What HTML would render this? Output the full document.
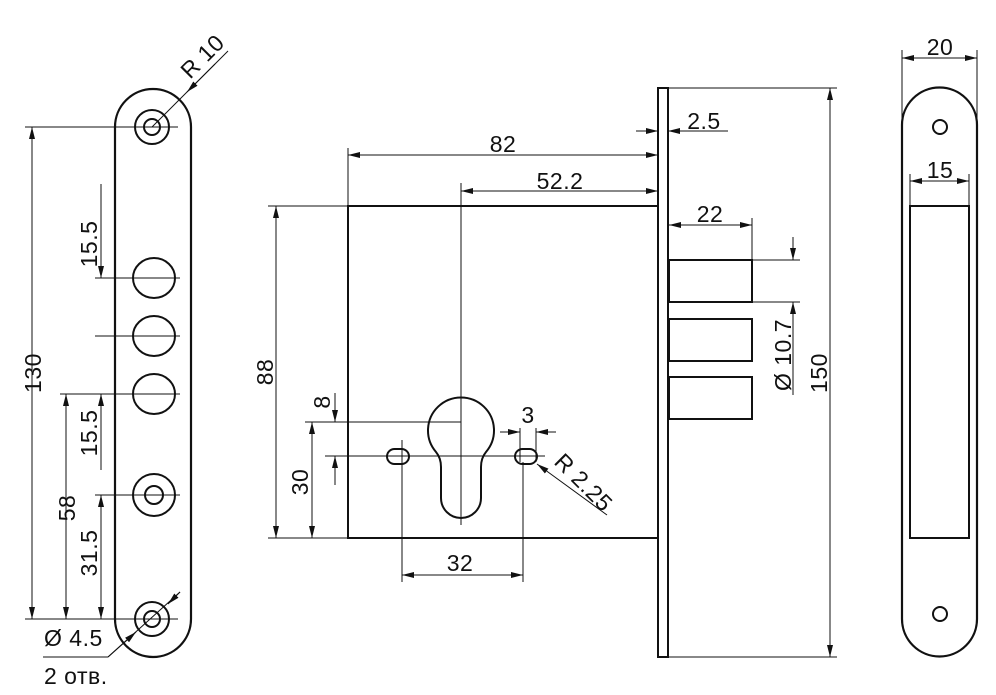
<!DOCTYPE html>
<html><head><meta charset="utf-8"><style>
html,body{margin:0;padding:0;background:#fff;}
svg{display:block}
text{font-family:"Liberation Sans",sans-serif;font-size:23px;fill:#111;letter-spacing:0.5px}
</style></head><body>
<svg width="996" height="695" viewBox="0 0 996 695" xmlns="http://www.w3.org/2000/svg">
<defs>
<marker id="a" viewBox="0 0 12 6" refX="12" refY="3" markerWidth="12" markerHeight="6" markerUnits="userSpaceOnUse" orient="auto-start-reverse">
<path d="M0,0 L12,3 L0,6 z" fill="#111"/></marker>
</defs>
<g fill="none" stroke="#111" stroke-width="1">
<path d="M115,127 A38,38 0 0 1 191,127 L191,619 A38,38 0 0 1 115,619 Z" stroke-width="2.2"/>
<circle cx="152" cy="127" r="17" stroke-width="2"/><circle cx="152" cy="127" r="8" stroke-width="2"/>
<circle cx="152" cy="619" r="17" stroke-width="2"/><circle cx="152" cy="619" r="8" stroke-width="2"/>
<ellipse cx="154" cy="278" rx="21" ry="20" stroke-width="2"/>
<ellipse cx="154" cy="336" rx="21" ry="20" stroke-width="2"/>
<ellipse cx="154" cy="394" rx="21" ry="20" stroke-width="2"/>
<circle cx="154" cy="495" r="21" stroke-width="2"/><circle cx="154" cy="495" r="9" stroke-width="2"/>
<line x1="25" y1="127" x2="178" y2="127"/>
<line x1="25" y1="619" x2="178" y2="619"/>
<line x1="60" y1="394" x2="180" y2="394"/>
<line x1="95" y1="278" x2="180" y2="278"/>
<line x1="95" y1="336" x2="180" y2="336"/>
<line x1="95" y1="495" x2="180" y2="495"/>
<line x1="32" y1="127" x2="32" y2="619" marker-start="url(#a)" marker-end="url(#a)"/>
<line x1="66" y1="394" x2="66" y2="619" marker-start="url(#a)" marker-end="url(#a)"/>
<line x1="101" y1="184" x2="101" y2="278" marker-end="url(#a)"/>
<line x1="101" y1="470" x2="101" y2="394" marker-end="url(#a)"/>
<line x1="101" y1="495" x2="101" y2="619" marker-start="url(#a)" marker-end="url(#a)"/>
<line x1="228" y1="51" x2="152" y2="127"/>
<line x1="215" y1="64" x2="187" y2="92" marker-end="url(#a)"/>
<line x1="43" y1="657" x2="108" y2="657"/>
<line x1="108" y1="657" x2="180" y2="592"/>
<line x1="108" y1="657" x2="136" y2="632" marker-end="url(#a)"/>
<line x1="180" y1="592" x2="168" y2="604" marker-end="url(#a)"/>
<rect x="348" y="206" width="310" height="332" stroke-width="2"/>
<rect x="658" y="88" width="10" height="569" stroke-width="2"/>
<rect x="669" y="260" width="83" height="42" stroke-width="2"/>
<rect x="669" y="319" width="83" height="42" stroke-width="2"/>
<rect x="669" y="377" width="83" height="42" stroke-width="2"/>
<path d="M441,498 L441,467 Q441,458 436,452 A33,33 0 1 1 486,452 Q481,458 481,467 L481,498 A20,20 0 0 1 441,498 Z" stroke-width="2"/>
<rect x="387" y="449" width="22" height="15" rx="7.5" stroke-width="2"/>
<rect x="515" y="449" width="22" height="15" rx="7.5" stroke-width="2"/>
<line x1="461" y1="183" x2="461" y2="525"/>
<line x1="348" y1="148" x2="348" y2="206"/>
<line x1="348" y1="155" x2="658" y2="155" marker-start="url(#a)" marker-end="url(#a)"/>
<line x1="461" y1="191" x2="658" y2="191" marker-start="url(#a)" marker-end="url(#a)"/>
<line x1="636" y1="131" x2="658" y2="131" marker-end="url(#a)"/>
<line x1="728" y1="131" x2="668" y2="131" marker-end="url(#a)"/>
<line x1="669" y1="225" x2="752" y2="225" marker-start="url(#a)" marker-end="url(#a)"/>
<line x1="752" y1="218" x2="752" y2="260"/>
<line x1="752" y1="260" x2="800" y2="260"/>
<line x1="752" y1="302" x2="800" y2="302"/>
<line x1="793" y1="237" x2="793" y2="260" marker-end="url(#a)"/>
<line x1="793" y1="395" x2="793" y2="302" marker-end="url(#a)"/>
<line x1="668" y1="88" x2="837" y2="88"/>
<line x1="668" y1="657" x2="837" y2="657"/>
<line x1="830" y1="88" x2="830" y2="657" marker-start="url(#a)" marker-end="url(#a)"/>
<line x1="268" y1="206" x2="348" y2="206"/>
<line x1="268" y1="538" x2="348" y2="538"/>
<line x1="276" y1="206" x2="276" y2="538" marker-start="url(#a)" marker-end="url(#a)"/>
<line x1="305" y1="422" x2="461" y2="422"/>
<line x1="325" y1="456" x2="545" y2="456"/>
<line x1="335" y1="393" x2="335" y2="422" marker-end="url(#a)"/>
<line x1="335" y1="485" x2="335" y2="456" marker-end="url(#a)"/>
<line x1="312" y1="422" x2="312" y2="538" marker-start="url(#a)" marker-end="url(#a)"/>
<line x1="520" y1="428" x2="520" y2="462"/>
<line x1="536" y1="428" x2="536" y2="462"/>
<line x1="500" y1="432" x2="520" y2="432" marker-end="url(#a)"/>
<line x1="556" y1="432" x2="536" y2="432" marker-end="url(#a)"/>
<line x1="402" y1="440" x2="402" y2="582"/>
<line x1="523" y1="462" x2="523" y2="582"/>
<line x1="402" y1="575" x2="523" y2="575" marker-start="url(#a)" marker-end="url(#a)"/>
<line x1="607" y1="515" x2="537" y2="464" marker-end="url(#a)"/>
<path d="M902,125 A37.5,37.5 0 0 1 977,125 L977,619 A37.5,37.5 0 0 1 902,619 Z" stroke-width="2.2"/>
<circle cx="940" cy="127" r="7" stroke-width="2"/>
<circle cx="940" cy="614" r="7" stroke-width="2"/>
<rect x="910" y="206" width="59" height="332" stroke-width="2"/>
<line x1="902" y1="50" x2="902" y2="120"/>
<line x1="977" y1="50" x2="977" y2="120"/>
<line x1="902" y1="58" x2="977" y2="58" marker-start="url(#a)" marker-end="url(#a)"/>
<line x1="910" y1="174" x2="910" y2="206"/>
<line x1="969" y1="174" x2="969" y2="206"/>
<line x1="910" y1="181" x2="969" y2="181" marker-start="url(#a)" marker-end="url(#a)"/>
</g>
<text transform="translate(41,373) rotate(-90)" text-anchor="middle">130</text>
<text transform="translate(75,508) rotate(-90)" text-anchor="middle">58</text>
<text transform="translate(97,244) rotate(-90)" text-anchor="middle">15.5</text>
<text transform="translate(97,433) rotate(-90)" text-anchor="middle">15.5</text>
<text transform="translate(97,553) rotate(-90)" text-anchor="middle">31.5</text>
<text transform="translate(208,62) rotate(-45)" text-anchor="middle">R 10</text>
<text x="44" y="646">Ø 4.5</text>
<text x="44" y="684">2 отв.</text>
<text x="503" y="152" text-anchor="middle">82</text>
<text x="560" y="189" text-anchor="middle">52.2</text>
<text x="704" y="129" text-anchor="middle">2.5</text>
<text x="710" y="222" text-anchor="middle">22</text>
<text transform="translate(791,355) rotate(-90)" text-anchor="middle">Ø 10.7</text>
<text transform="translate(827,373) rotate(-90)" text-anchor="middle">150</text>
<text transform="translate(273,372) rotate(-90)" text-anchor="middle">88</text>
<text transform="translate(330,402) rotate(-90)" text-anchor="middle">8</text>
<text transform="translate(308,482) rotate(-90)" text-anchor="middle">30</text>
<text x="528" y="423" text-anchor="middle">3</text>
<text x="460" y="571" text-anchor="middle">32</text>
<text transform="translate(578,488) rotate(45)" text-anchor="middle">R 2.25</text>
<text x="940" y="55" text-anchor="middle">20</text>
<text x="940" y="178" text-anchor="middle">15</text>
</svg>
</body></html>
